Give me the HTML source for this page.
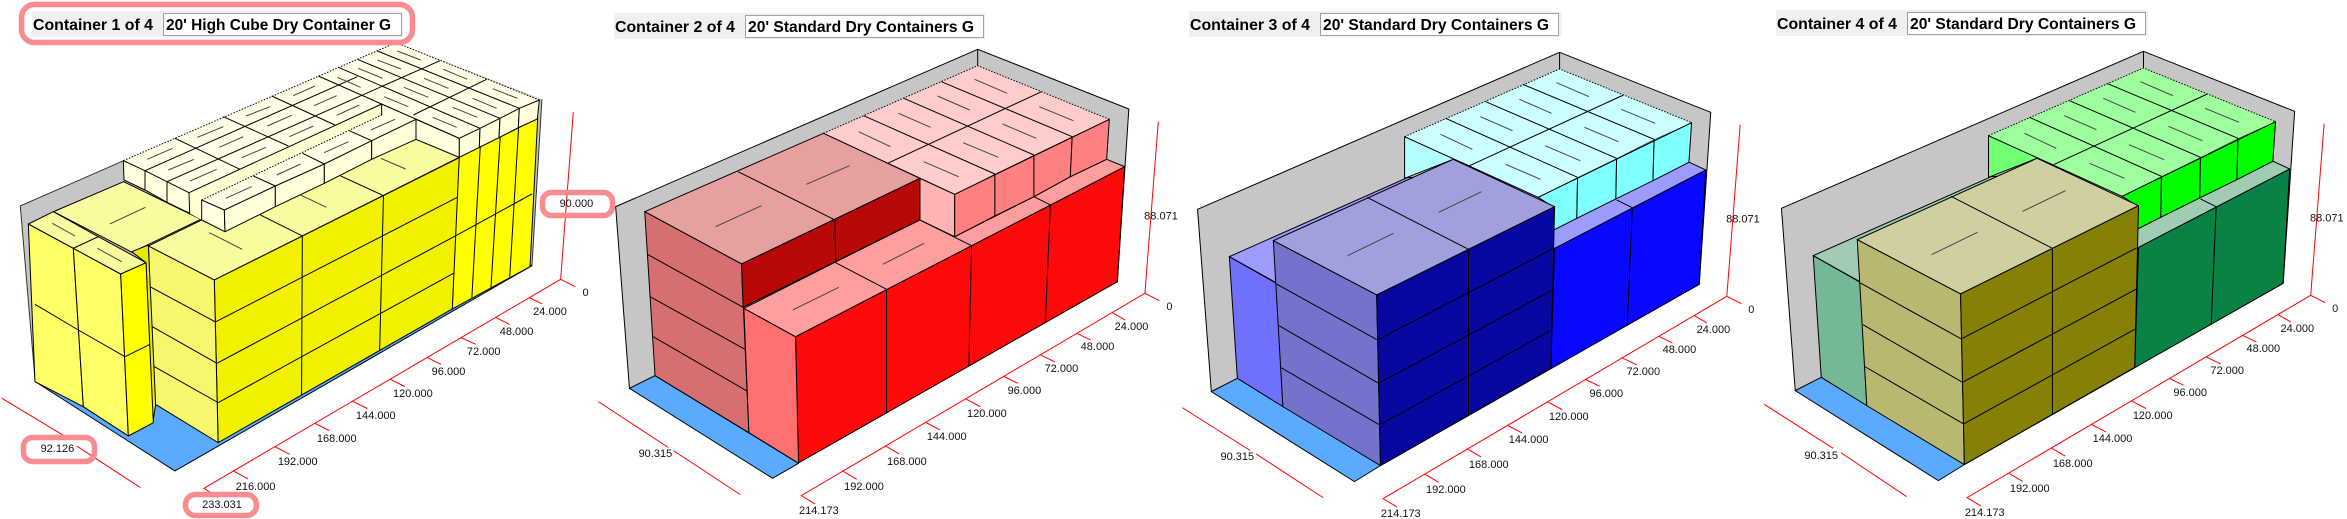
<!DOCTYPE html>
<html lang="en">
<head>
<meta charset="utf-8">
<title>Containers</title>
<style>
html,body{margin:0;padding:0;background:#fff;width:2347px;height:519px;overflow:hidden}
svg{display:block}
svg *{vector-effect:non-scaling-stroke}
.k polygon{stroke:#000;stroke-width:1;stroke-linejoin:round}
.k polygon.n{stroke:none}
.l{stroke:#000;stroke-width:1;fill:none}
.d{stroke:#000;stroke-width:1;stroke-dasharray:1.5 1.5;fill:none}
.h{stroke:#444;stroke-width:1;fill:none}
.r{stroke:#f00;stroke-width:1;fill:none}
.hl{fill:none;stroke:#f98c90;stroke-width:5.5}
text{font-family:"Liberation Sans",sans-serif;fill:#111}
.t{font-weight:bold;font-size:16px;fill:#000}
.a text,text.a{font-size:11px;text-anchor:middle;dominant-baseline:central}
</style>
</head>
<body>
<svg width="2347" height="519" viewBox="0 0 2347 519" xmlns="http://www.w3.org/2000/svg">
<rect width="2347" height="519" fill="#fff"/>

<!-- ===== Container 1 ===== -->
<g transform="scale(.3827,.3333)" class="k">
  <polygon class="n" fill="#c6c6c6" points="53,618 1035,128 1416,298 1390,800 92,1145"/>
  <path class="l" style="stroke:#333" d="M323,482L53,618L92,1145M1416,298L1390,797"/>
  <polygon fill="#5aaaff" points="92,1145 457,1413 1390,797 900,600"/>
  <polygon fill="#f2f200" points="560,840 1202,472 1182,927 570,1328"/>
  <polygon fill="#ffff00" points="1200,472 1405,355 1385,800 1182,927"/>
  <polygon fill="#f7f76e" points="388,738 560,840 570,1328 402,1210"/>
  <polygon fill="#fafa9e" points="140,635 323,545 525,658 345,757"/>
  <polygon fill="#fafa9e" points="388,738 527,660 1087,418 1200,472 560,840"/>
  <path class="l" d="M563,966L1195,592M567,1090L1190,708M570,1208L1185,820M790,708L788,1185M1002,587L992,1052M1190,708L1390,582M1255,440L1233,893M1307,412L1283,862M1355,385L1332,830M392,860L563,966M398,980L567,1090M400,1098L570,1208M680,645L790,708M890,528L1002,587"/>
  <path class="h" d="M287,672L380,622M547,698L633,748M785,585L853,622M995,475L1060,507"/>
</g>
<g transform="translate(120,40) scale(.33333)" class="k">
  <polygon fill="#ffffd2" class="n" points="207,458 785,192 785,225 245,480 245,540 209,520"/>
  <polygon class="n" fill="#ffffe8" points="245,480 785,225 785,195 888,238 755,302 613,372 466,438 313,510"/>
  <path class="d" d="M245,480L785,225"/>
  <polygon class="n" fill="#ffffe8" points="10,362 828,8 1258,180 1018,295 888,238 785,192 207,458 141,425 75,392"/>
  <polygon fill="#ffffe0" points="10,362 75,392 75,450 12,420"/>
  <polygon fill="#ffffe0" points="75,392 141,425 141,487 75,450"/>
  <polygon fill="#ffffe0" points="141,425 207,458 209,520 141,487"/>
  <polygon fill="#ffffe0" points="245,480 313,510 315,575 245,540"/>
  <polygon fill="#ffffd9" points="313,510 466,438 466,500 315,575"/>
  <polygon fill="#ffffd9" points="466,438 613,372 613,430 466,500"/>
  <polygon fill="#ffffd9" points="613,372 755,302 755,358 613,430"/>
  <polygon fill="#ffffd9" points="755,302 888,238 888,298 755,358"/>
  <polygon fill="#ffffe0" points="888,238 1018,295 1018,352 888,298"/>
  <polygon fill="#ffffd9" points="1018,295 1080,265 1078,322 1018,352"/>
  <polygon fill="#ffffd9" points="1080,265 1140,235 1137,293 1078,322"/>
  <polygon fill="#ffffd9" points="1140,235 1198,205 1195,263 1137,293"/>
  <polygon fill="#ffffd9" points="1198,205 1258,180 1252,237 1195,263"/>
  <path class="d" d="M10,362L828,8L1258,180"/>
  <path class="l" d="M165,295L360,388M310,230L505,318M455,168L645,255M595,108L1018,295M655,82L1080,265M712,58L1140,235M770,32L1198,205M75,392L712,110M141,425L960,62M207,458L785,192M880,225L1100,118M400,408L466,438M548,340L613,372M688,272L755,302M785,192L785,225"/>
  <path class="h" d="M82,358L158,325M145,390L222,358M210,423L290,388M232,292L310,260M298,322L370,290M365,353L438,322M378,228L450,200M442,258L515,226M508,290L580,258M520,167L585,138M582,197L650,167M650,226L718,195M317,475L395,440M470,405L542,372M612,338L686,305M752,270L825,238M652,112L722,142M715,85L788,115M772,60L843,87M832,33L902,60M792,170L865,200M852,142L925,172M912,115L985,145M970,88L1042,118M938,232L1010,262M998,202L1072,232M1058,175L1130,205M1118,146L1192,175"/>
</g>
<g transform="translate(10,200) scale(.33333)" class="k">
  <polygon fill="#e8e800" points="365,155 415,135 437,615 428,668 408,188"/>
  <polygon fill="#ffff66" points="55,72 190,145 220,620 75,545"/>
  <polygon fill="#ffff66" points="190,145 332,222 355,708 220,620"/>
  <polygon fill="#ffff00" points="332,222 408,188 430,668 355,708"/>
  <polygon fill="#fafa9e" points="55,72 130,35 265,110 190,145"/>
  <polygon fill="#fafa9e" points="190,145 265,110 408,188 332,222"/>
  <path class="l" d="M75,313L205,390L345,470L420,433"/>
  <path class="h" d="M127,70L195,108M262,145L335,185"/>
</g>
<g transform="scale(.3827,.3333)">
  <path class="r" d="M1498,337L1465,838L533,1465L570,1493M1465,838L1503,860M1383,893L1417,912M1295,952L1332,974M1205,1013L1243,1033M1115,1072L1152,1093M1020,1138L1058,1160M920,1203L960,1226M823,1270L860,1292M718,1340L757,1363M610,1413L648,1437M5,1195L183,1318M200,1338L367,1463"/>
</g>
<g class="a">
  <text x="585.5" y="293">0</text><text x="550" y="312">24.000</text><text x="516.6" y="332">48.000</text><text x="483.7" y="352">72.000</text><text x="448.5" y="372">96.000</text><text x="412.9" y="394">120.000</text><text x="375.8" y="416">144.000</text><text x="336.8" y="439">168.000</text><text x="297.7" y="462">192.000</text><text x="255.6" y="487">216.000</text><text x="222" y="505">233.031</text><text x="57.4" y="449">92.126</text><text x="576.4" y="204">90.000</text>
</g>
<rect x="32" y="11" width="371" height="26" fill="#f0f0f0"/>
<rect x="163.5" y="13.5" width="238" height="22" fill="#fff" stroke="#a0a0a0"/>
<text class="t" x="33" y="30" textLength="120" lengthAdjust="spacingAndGlyphs">Container 1 of 4</text>
<text class="t" x="166" y="30" textLength="225" lengthAdjust="spacingAndGlyphs">20' High Cube Dry Container G</text>
<rect class="hl" x="21.5" y="4.5" width="391" height="38" rx="13"/>
<rect class="hl" x="542.5" y="192.5" width="70" height="23" rx="9"/>
<rect class="hl" x="23.5" y="437.5" width="71" height="24" rx="9"/>
<rect class="hl" x="185.5" y="494.5" width="71" height="21" rx="10"/>

<!-- ===== Container 2 ===== -->
<g transform="translate(590,0) scale(.3827,.3333)" class="k">
  <polygon fill="#c6c6c6" points="67,620 1013,148 1408,327 1378,845 1190,965 103,1165"/>
  <path class="l" d="M1013,148L1013,197"/>
  <polygon fill="#5aaaff" points="103,1165 477,1435 545,1390 170,1127"/>
  <polygon fill="#ff0a0a" points="537,1010 1397,500 1378,845 543,1390"/>
  <polygon fill="#ff7070" points="402,925 537,1010 545,1390 415,1298"/>
  <polygon fill="#ff9e9e" points="402,925 640,787 862,660 953,710 1160,590 1255,530 1350,478 1397,500 537,1010"/>
  <polygon fill="#ffb3b3" points="862,535 953,583 953,710 862,660"/>
  <polygon fill="#ff8080" points="953,583 1058,522 1058,648 953,710"/>
  <polygon fill="#ff8080" points="1058,522 1160,465 1160,590 1058,648"/>
  <polygon fill="#ff8080" points="1160,465 1260,410 1255,530 1160,590"/>
  <polygon fill="#ff8080" points="1260,410 1357,358 1350,478 1255,530"/>
  <polygon class="n" fill="#ffcccc" points="610,400 1013,197 1357,358 1260,410 1160,465 1058,522 953,583 778,490"/>
  <path class="d" d="M610,400L1013,197L1357,358"/>
  <path class="l" d="M610,400L953,583L1357,358"/>
  <polygon fill="#e6a0a0" points="143,635 610,400 862,535 396,792"/>
  <polygon fill="#d67070" points="143,635 396,792 415,1298 170,1127"/>
  <polygon fill="#b80808" points="396,792 862,535 862,660 400,922"/>
  <path class="l" d="M775,868L775,1237M997,737L990,1098M1203,615L1190,965M640,787L775,868M862,660L997,737M1160,590L1203,615M715,347L1058,522M820,295L1160,465M918,245L1260,410M778,490L1180,275M387,515L640,660M150,763L400,922M157,890L405,1048M165,1010L410,1173M640,660L642,787"/>
  <path class="h" d="M530,930L650,862M765,793L873,730M702,395L785,440M806,340L890,382M908,288L992,330M1005,238L1090,280M872,485L963,530M975,428L1067,472M1078,372L1166,415M1174,320L1263,362M328,680L448,617M565,553L678,497"/>
  <path class="r" d="M1485,365L1450,880L552,1487L588,1512M1450,880L1488,902M1365,938L1398,960M1272,1000L1308,1020M1177,1065L1215,1086M1082,1130L1118,1150M982,1197L1020,1220M878,1268L915,1290M772,1338L808,1362M660,1413L697,1438M22,1205L205,1343M218,1352L393,1484"/>
</g>
<g class="a">
  <text x="1161" y="216.3">88.071</text><text x="1169.4" y="307">0</text><text x="1131.5" y="327">24.000</text><text x="1097.5" y="347">48.000</text><text x="1061.4" y="369">72.000</text><text x="1024.4" y="391">96.000</text><text x="986.9" y="414">120.000</text><text x="946.7" y="437">144.000</text><text x="906.9" y="462">168.000</text><text x="864" y="487">192.000</text><text x="818.9" y="511">214.173</text><text x="655.4" y="454">90.315</text>
</g>
<rect x="614" y="13" width="371" height="26" fill="#f0f0f0"/>
<rect x="745.5" y="15.5" width="238" height="22" fill="#fff" stroke="#a0a0a0"/>
<text class="t" x="615" y="32" textLength="120" lengthAdjust="spacingAndGlyphs">Container 2 of 4</text>
<text class="t" x="748" y="32" textLength="226" lengthAdjust="spacingAndGlyphs">20' Standard Dry Containers G</text>

<!-- ===== Container 3 ===== -->
<g transform="translate(1170,0) scale(.3827,.3333)" class="k">
  <polygon fill="#c6c6c6" points="72,628 1018,157 1413,337 1383,853 1195,975 108,1175"/>
  <path class="l" d="M1018,157L1018,207"/>
  <polygon fill="#5aaaff" points="108,1175 482,1445 550,1397 176,1135"/>
  <polygon fill="#0808ff" points="540,1020 1400,510 1383,853 550,1397"/>
  <polygon fill="#9c9cff" points="155,770 620,533 1357,487 1400,510 1005,745 280,850"/>
  <polygon fill="#7070ff" points="155,770 278,850 295,1220 176,1135"/>
  <polygon fill="#b3ffff" points="613,410 783,497 740,478 613,535"/>
  <polygon fill="#80ffff" points="962,592 1065,532 1063,655 1003,690 1003,622"/>
  <polygon fill="#80ffff" points="1065,532 1167,475 1165,597 1063,655"/>
  <polygon fill="#80ffff" points="1167,475 1265,418 1262,542 1165,597"/>
  <polygon fill="#80ffff" points="1265,418 1363,368 1356,487 1262,542"/>
  <polygon class="n" fill="#ccffff" points="613,410 1018,207 1363,368 1265,418 1167,475 1065,532 962,592 783,497"/>
  <path class="d" d="M613,410L1018,207L1363,368"/>
  <path class="l" d="M613,410L962,592L1363,368M720,355L1065,532M825,305L1167,475M922,253L1265,418M783,497L1185,285M1208,623L1195,975M1005,745L995,1105M1167,600L1208,623"/>
  <path class="h" d="M707,403L790,448M811,350L895,392M913,298L997,340M1010,248L1095,290M877,493L968,538M980,437L1072,482M1083,382L1172,425M1179,328L1268,370"/>
  <polygon fill="#a0a0dc" points="270,722 740,478 1005,620 540,885"/>
  <polygon fill="#7373cc" points="270,722 540,885 550,1397 295,1220"/>
  <polygon fill="#0808a0" points="540,885 1005,620 995,1105 550,1397"/>
  <path class="l" d="M515,592L780,748M278,852L542,1020M285,977L545,1150M290,1103L548,1275M542,1020L1003,745M545,1150L1000,870M548,1275L997,990M780,748L780,1248"/>
  <path class="h" d="M464,767L584,700M702,637L814,575"/>
</g>
<g transform="translate(1171.9,3) scale(.3827,.3333)">
  <path class="r" d="M1485,365L1450,880L552,1487L588,1512M1450,880L1488,902M1365,938L1398,960M1272,1000L1308,1020M1177,1065L1215,1086M1082,1130L1118,1150M982,1197L1020,1220M878,1268L915,1290M772,1338L808,1362M660,1413L697,1438M27,1214L205,1343M220,1353L395,1484"/>
</g>
<g class="a" transform="translate(581.9,3)">
  <text x="1161" y="216.3">88.071</text><text x="1169.4" y="307">0</text><text x="1131.5" y="327">24.000</text><text x="1097.5" y="347">48.000</text><text x="1061.4" y="369">72.000</text><text x="1024.4" y="391">96.000</text><text x="986.9" y="414">120.000</text><text x="946.7" y="437">144.000</text><text x="906.9" y="462">168.000</text><text x="864" y="487">192.000</text><text x="818.9" y="511">214.173</text><text x="655.4" y="454">90.315</text>
</g>
<rect x="1189" y="11" width="372.5" height="26" fill="#f0f0f0"/>
<rect x="1320.5" y="13.5" width="238" height="22" fill="#fff" stroke="#a0a0a0"/>
<text class="t" x="1190" y="30" textLength="120" lengthAdjust="spacingAndGlyphs">Container 3 of 4</text>
<text class="t" x="1323" y="30" textLength="226" lengthAdjust="spacingAndGlyphs">20' Standard Dry Containers G</text>

<!-- ===== Container 4 ===== -->
<g transform="translate(1753.9,-1) scale(.3827,.3333)" class="k">
  <polygon fill="#c6c6c6" points="72,628 1018,157 1413,337 1383,853 1195,975 108,1175"/>
  <path class="l" d="M1018,157L1018,207"/>
  <polygon fill="#5aaaff" points="108,1175 482,1445 550,1397 176,1135"/>
  <polygon fill="#0a8246" points="540,1020 1400,510 1383,853 550,1397"/>
  <polygon fill="#a0ccb4" points="155,770 620,533 1357,487 1400,510 1005,745 280,850"/>
  <polygon fill="#74b896" points="155,770 278,850 295,1220 176,1135"/>
  <polygon fill="#73ff73" points="613,410 783,497 740,478 613,535"/>
  <polygon fill="#00ff00" points="962,592 1065,532 1063,655 1003,690 1003,622"/>
  <polygon fill="#00ff00" points="1065,532 1167,475 1165,597 1063,655"/>
  <polygon fill="#00ff00" points="1167,475 1265,418 1262,542 1165,597"/>
  <polygon fill="#00ff00" points="1265,418 1363,368 1356,487 1262,542"/>
  <polygon class="n" fill="#9eff9e" points="613,410 1018,207 1363,368 1265,418 1167,475 1065,532 962,592 783,497"/>
  <path class="d" d="M613,410L1018,207L1363,368"/>
  <path class="l" d="M613,410L962,592L1363,368M720,355L1065,532M825,305L1167,475M922,253L1265,418M783,497L1185,285M1208,623L1195,975M1005,745L995,1105M1167,600L1208,623"/>
  <path class="h" d="M707,403L790,448M811,350L895,392M913,298L997,340M1010,248L1095,290M877,493L968,538M980,437L1072,482M1083,382L1172,425M1179,328L1268,370"/>
  <polygon fill="#cfcfa0" points="270,722 740,478 1005,620 540,885"/>
  <polygon fill="#b8b870" points="270,722 540,885 550,1397 295,1220"/>
  <polygon fill="#858006" points="540,885 1005,620 995,1105 550,1397"/>
  <path class="l" d="M515,592L780,748M278,852L542,1020M285,977L545,1150M290,1103L548,1275M542,1020L1003,745M545,1150L1000,870M548,1275L997,990M780,748L780,1248"/>
  <path class="h" d="M464,767L584,700M702,637L814,575"/>
</g>
<g transform="translate(1755.8,2) scale(.3827,.3333)">
  <path class="r" d="M1485,365L1450,880L552,1487L588,1512M1450,880L1488,902M1365,938L1398,960M1272,1000L1308,1020M1177,1065L1215,1086M1082,1130L1118,1150M982,1197L1020,1220M878,1268L915,1290M772,1338L808,1362M660,1413L697,1438M22,1207L202,1339M222,1352L394,1484"/>
</g>
<g class="a" transform="translate(1165.8,2)">
  <text x="1161" y="216.3">88.071</text><text x="1169.4" y="307">0</text><text x="1131.5" y="327">24.000</text><text x="1097.5" y="347">48.000</text><text x="1061.4" y="369">72.000</text><text x="1024.4" y="391">96.000</text><text x="986.9" y="414">120.000</text><text x="946.7" y="437">144.000</text><text x="906.9" y="462">168.000</text><text x="864" y="487">192.000</text><text x="818.9" y="511">214.173</text><text x="655.4" y="454">90.315</text>
</g>
<rect x="1776" y="10" width="372" height="26" fill="#f0f0f0"/>
<rect x="1907.5" y="12.5" width="238" height="22" fill="#fff" stroke="#a0a0a0"/>
<text class="t" x="1777" y="29" textLength="120" lengthAdjust="spacingAndGlyphs">Container 4 of 4</text>
<text class="t" x="1910" y="29" textLength="226" lengthAdjust="spacingAndGlyphs">20' Standard Dry Containers G</text>
</svg>
</body>
</html>
